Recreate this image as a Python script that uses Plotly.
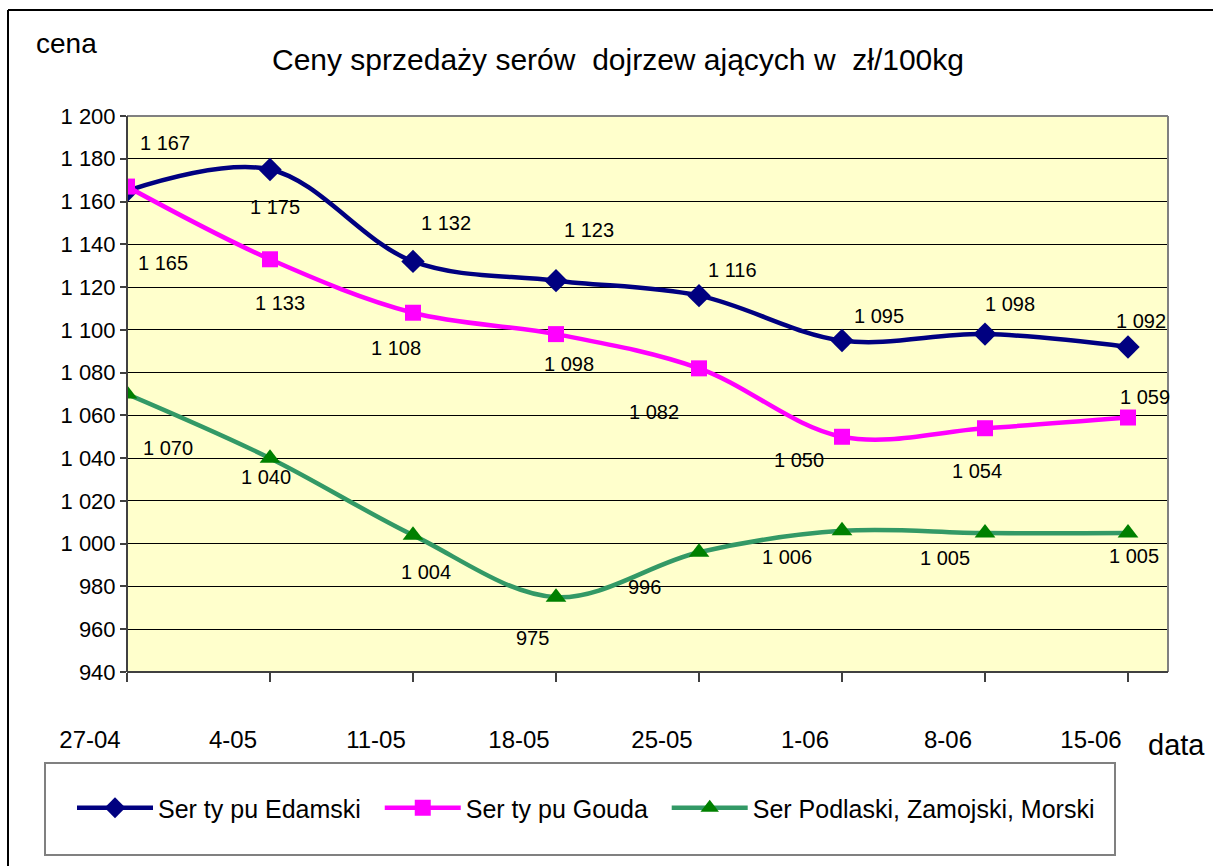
import plotly.graph_objects as go

dates = ["27-04", "4-05", "11-05", "18-05", "25-05", "1-06", "8-06", "15-06"]
edamski = [1165, 1175, 1132, 1123, 1116, 1095, 1098, 1092]
gouda = [1167, 1133, 1108, 1098, 1082, 1050, 1054, 1059]
podlaski = [1070, 1040, 1004, 975, 996, 1006, 1005, 1005]
y_ticks = list(range(940, 1201, 20))

names = ["Ser ty pu Edamski", "Ser ty pu Gouda", "Ser Podlaski, Zamojski, Morski"]
series = [edamski, gouda, podlaski]

# label pixel offsets (dx right, dy down) per series
label_off = [
    [(36, 72), (5, 38), (33, -38), (33, -51), (33, -26), (37, -25), (25, -30), (13, -26)],
    [(38, -44), (10, 44), (-17, 35), (13, 30), (-45, 44), (-43, 23), (-8, 43), (17, -21)],
    [(41, 54), (-4, 19), (13, 37), (-24, 41), (-55, 35), (-55, 26), (-40, 25), (6, 23)],
]

line_colors = ["#000080", "#FF00FF", "#339966"]
marker_colors = ["#000080", "#FF00FF", "#008000"]
symbols = ["diamond", "square", "triangle-up"]
msizes = [18, 16, 18]
legend_pad = ["\u00a0\u00a0", "\u00a0\u00a0", ""]

FONT = "Liberation Sans"
W, H = 1213, 866
L, R, T, B = 127, 1168, 116, 672

def px(x):
    return (x - L) / (R - L)

def py(y):
    return (B - y) / (B - T)

xs = list(range(len(dates)))

fig = go.Figure()
for name, pad, vals, lc, mc, sym, ms in zip(names, legend_pad, series, line_colors,
                                             marker_colors, symbols, msizes):
    fig.add_trace(go.Scatter(
        x=xs, y=vals, name=name + pad, mode="lines+markers",
        line=dict(color=lc, width=4.5, shape="spline", smoothing=1.0),
        marker=dict(color=mc, symbol=sym, size=ms),
    ))

annotations = []
for vals, offs in zip(series, label_off):
    for i, (v, (dx, dy)) in enumerate(zip(vals, offs)):
        annotations.append(dict(
            x=xs[i], y=v, xref="x", yref="y", text=f"{v:,}".replace(",", " "),
            showarrow=False, xshift=dx, yshift=-dy, xanchor="center", yanchor="middle",
            font=dict(family=FONT, size=20, color="black"),
        ))

annotations += [
    dict(x=px(66), y=py(44), xref="paper", yref="paper", text="cena", showarrow=False,
         xanchor="center", yanchor="middle", font=dict(family=FONT, size=28, color="black")),
    dict(x=px(618), y=py(60), xref="paper", yref="paper",
         text="Ceny sprzedaży serów  dojrzew ających w  zł/100kg", showarrow=False,
         xanchor="center", yanchor="middle", font=dict(family=FONT, size=30, color="black")),
    dict(x=px(1176), y=py(745), xref="paper", yref="paper", text="data", showarrow=False,
         xanchor="center", yanchor="middle", font=dict(family=FONT, size=29, color="black")),
]

shapes = [
    # outer chart border (left and top visible)
    dict(type="line", xref="paper", yref="paper", x0=px(8), y0=py(10), x1=px(1230), y1=py(10),
         line=dict(color="black", width=2)),
    dict(type="line", xref="paper", yref="paper", x0=px(8), y0=py(10), x1=px(8), y1=py(880),
         line=dict(color="black", width=2)),
    # plot area border
    dict(type="line", xref="paper", yref="paper", x0=0, y0=1, x1=1, y1=1,
         line=dict(color="#808080", width=2)),
    dict(type="line", xref="paper", yref="paper", x0=1, y0=0, x1=1, y1=1,
         line=dict(color="#808080", width=2)),
    dict(type="line", xref="paper", yref="paper", x0=0, y0=0, x1=0, y1=1,
         line=dict(color="#404040", width=2)),
    dict(type="line", xref="paper", yref="paper", x0=0, y0=0, x1=1, y1=0,
         line=dict(color="#404040", width=2)),
    # legend box
    dict(type="rect", xref="paper", yref="paper", x0=px(45), y0=py(763), x1=px(1115), y1=py(855),
         line=dict(color="#808080", width=2), fillcolor="rgba(0,0,0,0)"),
]

fig.update_layout(
    width=W, height=H,
    margin=dict(l=L, r=W - R, t=T, b=H - B),
    paper_bgcolor="white", plot_bgcolor="#FFFFCC",
    separators=", ",
    font=dict(family=FONT, size=20, color="black"),
    showlegend=True,
    legend=dict(orientation="h", x=px(586), y=py(808), xanchor="center", yanchor="middle",
                bgcolor="rgba(0,0,0,0)", borderwidth=0, font=dict(family=FONT, size=25),
                itemwidth=76, traceorder="normal"),
    annotations=annotations, shapes=shapes,
)
fig.update_xaxes(
    range=[0, (R - L) / 143.0], tickmode="array", tickvals=xs, ticktext=dates,
    showgrid=False, zeroline=False, showline=False,
    ticks="outside", ticklen=9, tickwidth=2, tickcolor="#404040",
    tickfont=dict(family=FONT, size=24), ticklabelshift=-37, ticklabelstandoff=37,
)
fig.update_yaxes(
    range=[940, 1200], tickmode="array", tickvals=y_ticks, tickformat=",d",
    showgrid=True, gridcolor="black", gridwidth=1, zeroline=False, showline=False,
    ticks="outside", ticklen=6, tickwidth=2, tickcolor="#404040",
    tickfont=dict(family=FONT, size=22),
)

fig.write_html("out.html", config={"displayModeBar": False},
               post_script="document.body.style.margin='0';")
